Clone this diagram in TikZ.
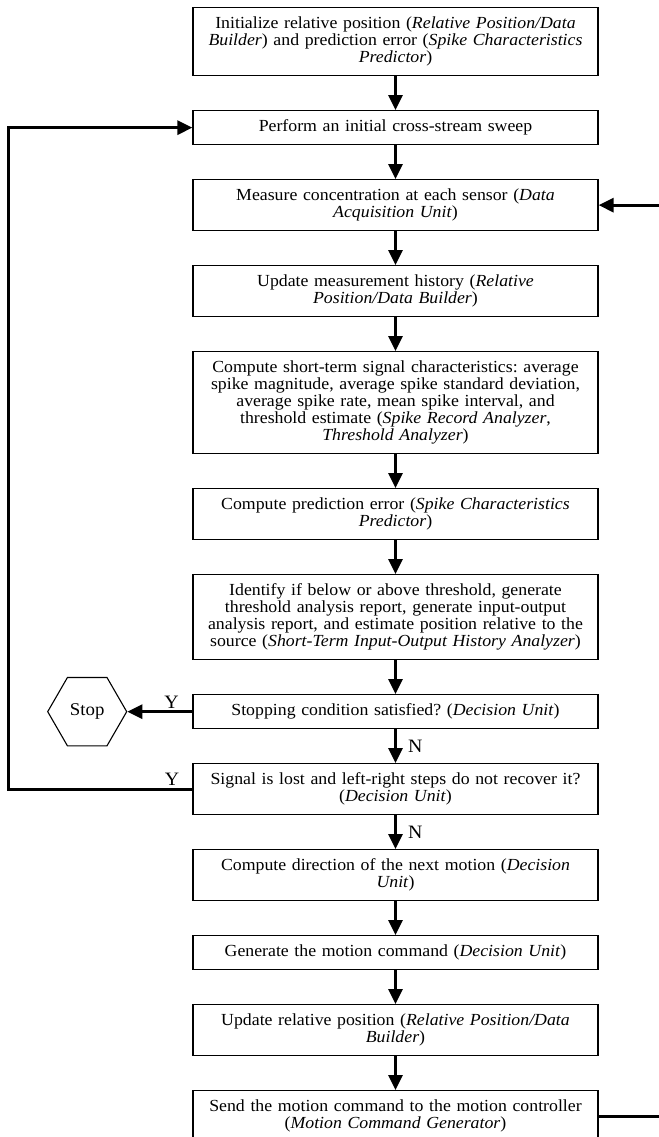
\documentclass[tikz,border=0pt]{standalone}
\usepackage{fontspec}
\setmainfont{Liberation Serif}[FakeStretch=1.05]
\usetikzlibrary{positioning,arrows.meta,shapes.geometric}
\tikzset{
  stepbox/.style={draw, line width=1.3bp, minimum width=405bp, text width=397bp,
    align=center, inner xsep=4bp, inner ysep=1bp,
    font=\fontsize{17}{17}\selectfont\frenchspacing},
  lines/.style={minimum height={17bp*(#1+1)}},
  flow/.style={line width=3bp, -{Triangle[length=15bp,width=14bp]}},
  stopnode/.style={draw, line width=1.1bp, regular polygon, regular polygon sides=6,
    minimum size=79bp, inner sep=0pt, font=\fontsize{18}{18}\selectfont},
  yn/.style={font=\fontsize{19}{19}\selectfont, inner sep=2bp}
}
\begin{document}
\begin{tikzpicture}[x=1bp,y=1bp, node distance=33.7bp]
  \useasboundingbox (0,0) rectangle (659,-1137);
  \clip (0,0) rectangle (659,-1137);

  % main column of steps
  \node[stepbox, lines=3, anchor=north] (init) at (395.5,-7)
    {Initialize relative position (\textit{Relative Position/Data}\\
     \textit{Builder}) and prediction error (\textit{Spike Characteristics}\\
     \textit{Predictor})};
  \node[stepbox, lines=1, below=of init] (sweep)
    {Perform an initial cross-stream sweep};
  \node[stepbox, lines=2, below=of sweep] (measure)
    {Measure concentration at each sensor (\textit{Data}\\
     \textit{Acquisition Unit})};
  \node[stepbox, lines=2, below=of measure] (history)
    {Update measurement history (\textit{Relative}\\
     \textit{Position/Data Builder})};
  \node[stepbox, lines=5, below=of history] (charac)
    {Compute short-term signal characteristics: average\\
     spike magnitude, average spike standard deviation,\\
     average spike rate, mean spike interval, and\\
     threshold estimate (\textit{Spike Record Analyzer},\\
     \textit{Threshold Analyzer})};
  \node[stepbox, lines=2, below=of charac] (prederr)
    {Compute prediction error (\textit{Spike Characteristics}\\
     \textit{Predictor})};
  \node[stepbox, lines=4, below=of prederr] (identify)
    {Identify if below or above threshold, generate\\
     threshold analysis report, generate input-output\\
     analysis report, and estimate position relative to the\\
     source (\textit{Short-Term Input-Output History Analyzer})};
  \node[stepbox, lines=1, below=of identify] (stopq)
    {Stopping condition satisfied? (\textit{Decision Unit})};
  \node[stepbox, lines=2, below=of stopq] (lostq)
    {Signal is lost and left-right steps do not recover it?\\
     (\textit{Decision Unit})};
  \node[stepbox, lines=2, below=of lostq] (direction)
    {Compute direction of the next motion (\textit{Decision}\\
     \textit{Unit})};
  \node[stepbox, lines=1, below=of direction] (command)
    {Generate the motion command (\textit{Decision Unit})};
  \node[stepbox, lines=2, below=of command] (updpos)
    {Update relative position (\textit{Relative Position/Data}\\
     \textit{Builder})};
  \node[stepbox, lines=2, below=of updpos] (send)
    {Send the motion command to the motion controller\\
     (\textit{Motion Command Generator})};

  % stop terminal
  \node[stopnode, left=65bp of stopq] (stop) {Stop};

  % straight flow
  \draw[flow] (init) -- (sweep);
  \draw[flow] (sweep) -- (measure);
  \draw[flow] (measure) -- (history);
  \draw[flow] (history) -- (charac);
  \draw[flow] (charac) -- (prederr);
  \draw[flow] (prederr) -- (identify);
  \draw[flow] (identify) -- (stopq);
  \draw[flow] (stopq) -- node[yn, right, xshift=9bp] {N} (lostq);
  \draw[flow] (lostq) -- node[yn, right, xshift=9bp] {N} (direction);
  \draw[flow] (direction) -- (command);
  \draw[flow] (command) -- (updpos);
  \draw[flow] (updpos) -- (send);

  % decisions
  \draw[flow] (stopq.west) -- node[yn, above, pos=0.32] {Y} (stop.east);
  \coordinate (loopL) at (8,0);
  \draw[flow] (lostq.west) -- node[yn, above, pos=0.11] {Y} (lostq.west -| loopL)
    |- (sweep.west);

  % back to measuring
  \coordinate (loopR) at (680,0);
  \draw[flow] (send.east) -- (send.east -| loopR) |- (measure.east);
\end{tikzpicture}
\end{document}
